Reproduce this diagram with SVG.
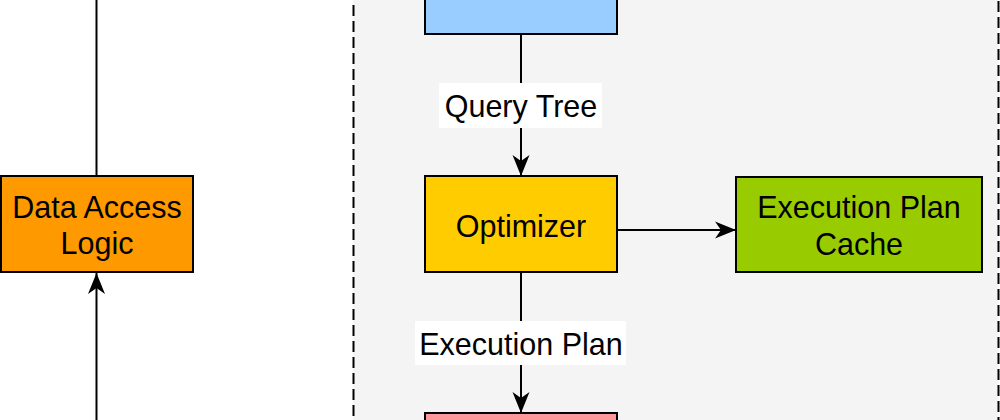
<svg xmlns="http://www.w3.org/2000/svg" width="1000" height="420" viewBox="0 0 1000 420">
  <style>
    .box { stroke: #000; stroke-width: 2; }
    .t { font-family: "Liberation Sans", Arial, sans-serif; font-size: 30.5px; fill: #000; text-anchor: middle; }
    .edge { stroke: #000; stroke-width: 2; fill: none; }
    .lbl { fill: #fff; }
  </style>
  <defs>
    <marker id="arr" viewBox="-23 -10 24 20" refX="0" refY="0" markerWidth="24" markerHeight="20" markerUnits="userSpaceOnUse" orient="auto">
      <path d="M0,0 L-21,-8.5 L-15,0 L-21,8.5 Z" fill="#000"/>
    </marker>
  </defs>
  <rect width="1000" height="420" fill="#fff"/>
  <g id="container">
    <rect x="353.5" y="-10" width="645" height="440" fill="#f4f4f4" stroke="#000" stroke-width="2" stroke-dasharray="11 5"/>
  </g>
  <g id="connectors">
    <line class="edge" x1="96.5" y1="0" x2="96.5" y2="176"/>
    <line class="edge" x1="96.5" y1="420" x2="96.5" y2="273" marker-end="url(#arr)"/>
    <line class="edge" x1="521" y1="34" x2="521" y2="176" marker-end="url(#arr)"/>
    <line class="edge" x1="617" y1="230" x2="736" y2="230" marker-end="url(#arr)"/>
    <line class="edge" x1="521" y1="272" x2="521" y2="413" marker-end="url(#arr)"/>
    <g id="label-query-tree">
      <rect class="lbl" x="439" y="83" width="163" height="45"/>
      <text class="t" x="521" y="117">Query Tree</text>
    </g>
    <g id="label-execution-plan">
      <rect class="lbl" x="415" y="321" width="211" height="44"/>
      <text class="t" x="521" y="355">Execution Plan</text>
    </g>
  </g>
  <g id="data-access-logic">
    <rect class="box" x="1" y="176" width="192" height="96" fill="#ff9900"/>
    <text class="t" x="97" y="218">Data Access</text>
    <text class="t" x="97" y="254">Logic</text>
  </g>
  <g id="top-node">
    <rect class="box" x="425" y="-62" width="192" height="96" fill="#99ccff"/>
  </g>
  <g id="optimizer">
    <rect class="box" x="425" y="176" width="192" height="96" fill="#ffcc00"/>
    <text class="t" x="521" y="237">Optimizer</text>
  </g>
  <g id="execution-plan-cache">
    <rect class="box" x="736" y="177" width="246" height="95" fill="#99cc00"/>
    <text class="t" x="859" y="218">Execution Plan</text>
    <text class="t" x="859" y="255">Cache</text>
  </g>
  <g id="bottom-node">
    <rect class="box" x="425" y="413" width="192" height="96" fill="#ff9999"/>
  </g>
</svg>
